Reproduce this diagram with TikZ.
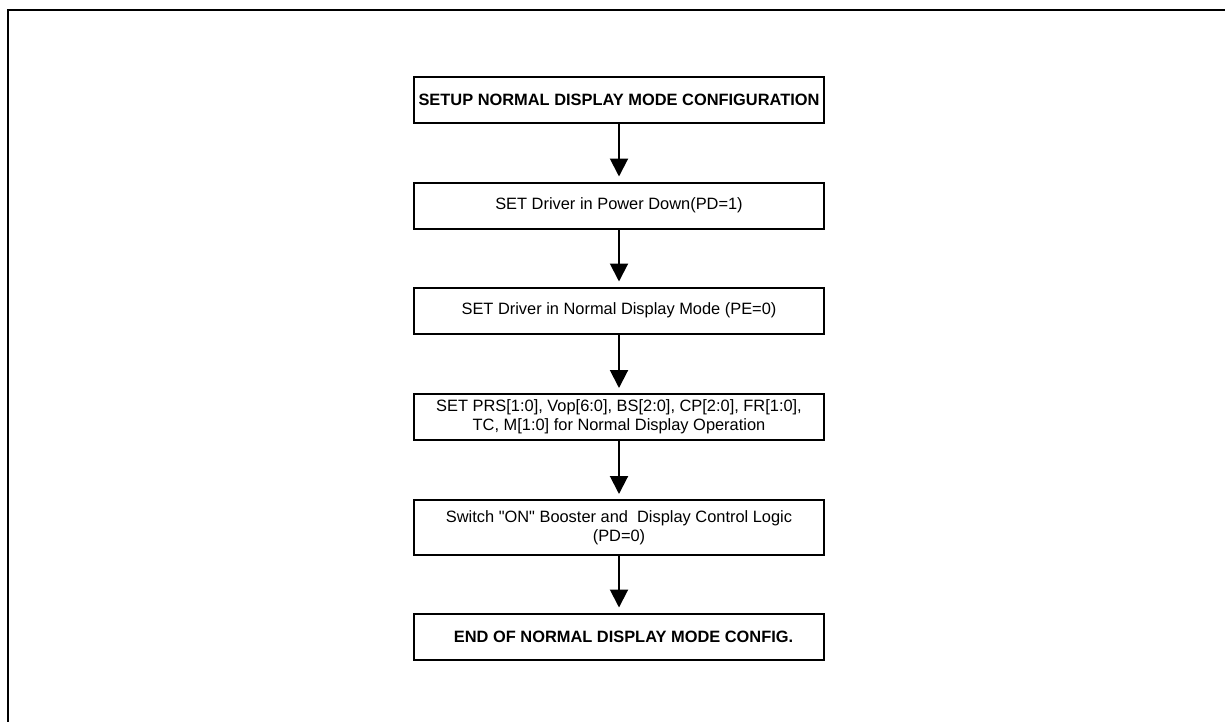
\documentclass[tikz,border=0pt]{standalone}
\usepackage{fontspec}
\setmainfont{Liberation Sans}
\usetikzlibrary{arrows.meta,positioning}
\newcommand{\boxfont}{\fontsize{8.2}{9.6}\selectfont}

\begin{document}
\begin{tikzpicture}[x=.5pt,y=-.5pt,>={Triangle[length=9pt,width=9pt]},
  stepbox/.style={draw,line width=1pt,minimum width=205pt,minimum height=23pt,inner sep=1pt,align=center,font=\boxfont},
  titlebox/.style={stepbox,font=\boxfont\bfseries},
  flow/.style={->,line width=1pt,shorten >=2.5pt}]
\useasboundingbox (0,0) rectangle (1225,722);
% frame, open at right and bottom
\draw[line width=1.2pt] (8,722)--(8,10)--(1225,10);
% steps
\node[titlebox] (setup) at (619,100){SETUP NORMAL DISPLAY MODE CONFIGURATION};
\node[stepbox] (pdown) at (619,205.5){SET Driver in Power Down(PD=1)};
\node[stepbox] (normal) at (619,310.5){SET Driver in Normal Display Mode (PE=0)};
\node[stepbox] (params) at (619,417){SET PRS[1:0], Vop[6:0], BS[2:0], CP[2:0], FR[1:0],\\TC, M[1:0] for Normal Display Operation};
\node[stepbox,minimum height=27.5pt,inner ysep=0pt] (boost) at (619,527.5){Switch \textquotedbl ON\textquotedbl{} Booster and~ Display Control Logic\\(PD=0)};
\node[titlebox] (done) at (619,636.5){\ \ END OF NORMAL DISPLAY MODE CONFIG.};
% arrows
\draw[flow] (setup)--(pdown);
\draw[flow] (pdown)--(normal);
\draw[flow] (normal)--(params);
\draw[flow] (params)--(boost);
\draw[flow] (boost)--(done);
\end{tikzpicture}
\end{document}
